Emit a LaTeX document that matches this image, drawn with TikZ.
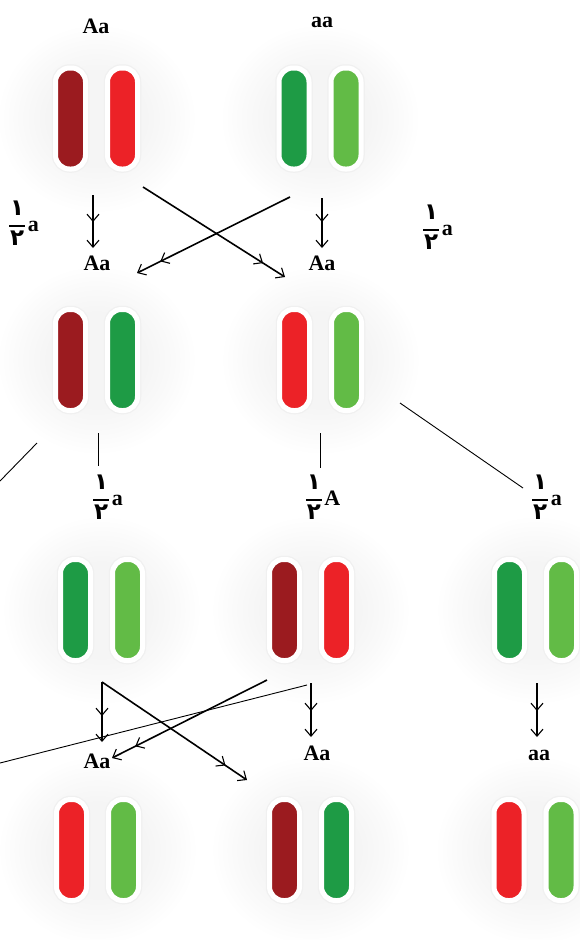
\documentclass[tikz,border=0pt]{standalone}
\usepackage{fontspec}
\setmainfont{Liberation Serif}
\newfontfamily\digitfont{DejaVu Sans}
\usetikzlibrary{arrows.meta,decorations.markings}

\definecolor{darkred}{HTML}{9B1B1F}
\definecolor{brightred}{HTML}{EC2227}
\definecolor{darkgreen}{HTML}{1E9B45}
\definecolor{lightgreen}{HTML}{62BB46}

% soft grey glow behind each chromosome pair (fades out at the path edge)
\pgfdeclareradialshading{halo}{\pgfpoint{0bp}{0bp}}{%
  color(0bp)=(black!4); color(12bp)=(black!4); color(19bp)=(black!2);
  color(25bp)=(white); color(50bp)=(white)}

% fraction one half written with Persian digits, followed by an allele
\newcommand\fracdigit{\digitfont\fontsize{23}{23}\selectfont}
\newcommand\halfof[1]{\raisebox{3pt}{$\vcenter{\offinterlineskip
  \halign{\hfil##\hfil\cr
    \fracdigit ۱\cr
    \noalign{\kern10pt}
    \vrule width 16pt height 1.4pt depth 0pt\cr
    \noalign{\kern4pt}
    \fracdigit ۲\cr}}$}\kern2.5pt#1}

\begin{document}
\begin{tikzpicture}[x=1pt,y=-1pt,
  rod/.style={rectangle, rounded corners=14pt, minimum width=30pt, minimum height=101pt,
    inner sep=0pt, draw=white, line width=5pt,
    preaction={draw=black!6, line width=7.5pt}},
  gene/.style={font=\bfseries\fontsize{22}{22}\selectfont, inner sep=0pt, anchor=base},
  frac/.style={font=\bfseries\fontsize{22}{22}\selectfont, inner sep=0pt},
  >={Straight Barb[length=7pt,width=12pt,line width=1.1pt]},
  heavy/.style={line width=1.6pt},
  light/.style={line width=0.9pt},
  twohead/.style={heavy, ->, postaction={decorate},
    decoration={markings, mark=at position -26pt with {\arrow{>}}}}]

\useasboundingbox (0,0) rectangle (580,940);
\fill[white] (0,0) rectangle (580,940);

% glow behind the pairs
\foreach \cx/\cy in {96.5/118.5, 320/118.5, 96.5/360, 320.5/360,
                     101.5/610, 310.5/610, 535.5/610,
                     97.5/850, 310.5/850, 535/850}
  \shade[shading=halo] (\cx,\cy) ellipse [x radius=100, y radius=95];

% chromosome pairs: number / centre / left colour / right colour
\foreach \i/\cx/\cy/\cl/\cr in {
    1/96.5/118.5/darkred/brightred,
    2/320/118.5/darkgreen/lightgreen,
    3/96.5/360/darkred/darkgreen,
    4/320.5/360/brightred/lightgreen,
    5/101.5/610/darkgreen/lightgreen,
    6/310.5/610/darkred/brightred,
    7/535.5/610/darkgreen/lightgreen,
    8/97.5/850/brightred/lightgreen,
    9/310.5/850/darkred/darkgreen,
    10/535/850/brightred/lightgreen}{
  \node[rod, fill=\cl] (p\i-l) at (\cx-26,\cy) {};
  \node[rod, fill=\cr] (p\i-r) at (\cx+26,\cy) {};
}

% genotype labels
\node[gene] (top1) at (96,33) {Aa};
\node[gene] (top2) at (322,27) {aa};
\node[gene] (g1) at (97,270) {Aa};
\node[gene] (g2) at (322,270) {Aa};
\node[gene] (g5) at (97,768) {Aa};
\node[gene] (g6) at (317,760) {Aa};
\node[gene] (g7) at (539,760) {aa};

% gamete fractions
\node[frac] (f1) at (24,223) {\halfof{a}};
\node[frac] (f2) at (438,227) {\halfof{a}};
\node[frac] (f3) at (108,497) {\halfof{a}};
\node[frac] (f4) at (323,497) {\halfof{A}};
\node[frac] (f5) at (547,497) {\halfof{a}};

% line end points
\coordinate (a1s) at (93,195);  \coordinate (a1e) at (93,248);
\coordinate (a2s) at (322,198); \coordinate (a2e) at (322,248);
\coordinate (x1s) at (143,187); \coordinate (x1e) at (285,277);
\coordinate (x2s) at (290,197); \coordinate (x2e) at (137,273);

\coordinate (t1s) at (37,443);  \coordinate (t1e) at (0,481);
\coordinate (t2s) at (98,433);  \coordinate (t2e) at (98,466);
\coordinate (t3s) at (320,433); \coordinate (t3e) at (320,468);
\coordinate (t4s) at (400,403); \coordinate (t4e) at (523,488);

\coordinate (a5s) at (102,682); \coordinate (a5e) at (102,742);
\coordinate (x5e) at (247,780);
\coordinate (x6s) at (267,680); \coordinate (x6e) at (112,758);
\coordinate (a6s) at (311,683); \coordinate (a6e) at (311,737);
\coordinate (t6s) at (307,685); \coordinate (t6e) at (0,763);
\coordinate (a7s) at (537,683); \coordinate (a7e) at (537,737);

% first cross
\draw[twohead] (a1s) -- (a1e);
\draw[twohead] (a2s) -- (a2e);
\draw[twohead] (x1s) -- (x1e);
\draw[twohead] (x2s) -- (x2e);

% gamete lines of the offspring
\draw[light] (t1s) -- (t1e);
\draw[light] (t2s) -- (t2e);
\draw[light] (t3s) -- (t3e);
\draw[light] (t4s) -- (t4e);

% second cross
\draw[twohead] (a5s) -- (a5e);
\draw[twohead] (a5s) -- (x5e);
\draw[twohead] (x6s) -- (x6e);
\draw[light] (t6s) -- (t6e);
\draw[twohead] (a6s) -- (a6e);
\draw[twohead] (a7s) -- (a7e);
\end{tikzpicture}
\end{document}
